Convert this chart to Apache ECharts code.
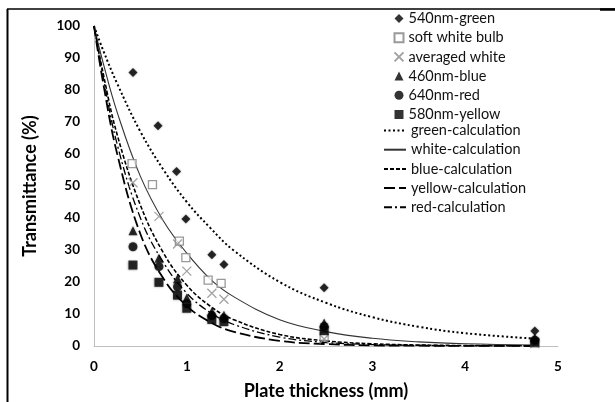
<!DOCTYPE html>
<html><head><meta charset="utf-8">
<script src="https://cdn.jsdelivr.net/npm/echarts@6/dist/echarts.min.js"></script>
<style>html,body{margin:0;padding:0;background:#fff}#c{width:615px;height:402px}</style>
</head><body><div id="c"></div>
<script>
// measured thickness (mm) per series
const xGreen  = [0.42, 0.69, 0.89, 0.99, 1.27, 1.40, 2.48, 4.75];
const xSoft   = [0.41, 0.63, 0.92, 0.99, 1.23, 1.37, 2.48, 4.75];
const xOther  = [0.42, 0.70, 0.90, 1.00, 1.27, 1.40, 2.48, 4.75];
// transmittance (%)
const green540  = [85.5, 68.8, 54.5, 39.7, 28.5, 25.5, 18.2, 4.7];
const softWhite = [57.0, 50.4, 32.8, 27.6, 20.6, 19.6, 3.0, 1.0];
const avgWhite  = [51.0, 40.5, 31.9, 23.4, 16.5, 14.6, 2.2, 0.8];
const blue460   = [36.0, 27.4, 21.0, 15.0, 10.7, 9.6, 7.2, 2.6];
const red640    = [31.0, 24.8, 18.5, 13.2, 9.5, 8.6, 6.1, 1.8];
const yellow580 = [25.3, 19.9, 15.9, 11.8, 8.3, 7.6, 4.8, 1.2];
// calculated curves
const xCalc     = [0, 0.1, 0.25, 0.5, 0.75, 1, 1.25, 1.5, 2, 2.5, 3, 3.5, 4, 4.75];
const greenCalc = [100, 92.3, 82, 67, 55, 45, 37, 30, 20, 13.5, 9, 6, 4, 2.3];
const whiteCalc = [100, 88.3, 73, 53, 39, 29, 21, 15.5, 8.2, 4.5, 2.4, 1.3, 0.7, 0.3];
const blueCalc  = [100, 85, 66, 44, 29, 19, 12.5, 8.3, 3.6, 1.6, 0.7, 0.3, 0.15, 0.05];
const yellowCalc= [100, 82, 60, 35, 21, 12.5, 7.5, 4.5, 1.6, 0.6, 0.2, 0.1, 0.05, 0];
const redCalc   = [100, 84, 63, 40, 26, 16.5, 10.5, 6.8, 2.8, 1.1, 0.45, 0.2, 0.1, 0];
const xTicks = [0, 1, 2, 3, 4, 5];
const yTicks = [0, 10, 20, 30, 40, 50, 60, 70, 80, 90, 100];
const markerNames = ['540nm-green', 'soft white bulb', 'averaged white', '460nm-blue', '640nm-red', '580nm-yellow'];
const curveNames = ['green-calculation', 'white-calculation', 'blue-calculation', 'yellow-calculation', 'red-calculation'];

const zip = (xs, ys) => xs.map((x, i) => [x, ys[i]]);
const FONT = 'Lato';
const crossPath = 'path://M0,0L10,10M10,0L0,10';
const shadow = {shadowBlur: 2, shadowColor: 'rgba(0,0,0,0.45)'};

function scatter(name, xs, ys, symbol, size, style) {
  return {name, type: 'scatter', data: zip(xs, ys), symbol, symbolSize: size, z: 5,
          itemStyle: style};
}
function curve(name, ys, lineStyle) {
  return {name, type: 'line', data: zip(xCalc, ys), smooth: 0.4, showSymbol: false, symbol: 'none',
          z: 3, lineStyle, itemStyle: {color: 'rgba(0,0,0,0)'}};
}
const legendText = {fontFamily: FONT, fontSize: 14.5, color: '#111'};

const chart = echarts.init(document.getElementById('c'), null, {renderer: 'canvas'});
chart.setOption({
  animation: false,
  textStyle: {fontFamily: FONT},
  grid: {left: 94, right: 57, top: 26, bottom: 56, containLabel: false, outerBoundsMode: 'none'},
  xAxis: {type: 'value', min: 0, max: 5, interval: 1,
    name: 'Plate thickness (mm)', nameLocation: 'middle', nameGap: 36,
    nameTextStyle: {fontFamily: FONT, fontWeight: 'bold', fontSize: 18, color: '#000'},
    axisLine: {lineStyle: {color: '#bfbfbf', width: 1}}, axisTick: {show: false},
    axisLabel: {fontFamily: FONT, fontWeight: 'bold', fontSize: 13.5, color: '#000', margin: 14,
      formatter: v => xTicks.includes(v) ? String(v) : ''},
    splitLine: {show: false}},
  yAxis: {type: 'value', min: 0, max: 100, interval: 10,
    name: 'Transmittance (%)', nameLocation: 'middle', nameGap: 55,
    nameTextStyle: {fontFamily: FONT, fontWeight: 'bold', fontSize: 18, color: '#000'},
    axisLine: {show: true, lineStyle: {color: '#bfbfbf', width: 1}}, axisTick: {show: false},
    axisLabel: {fontFamily: FONT, fontWeight: 'bold', fontSize: 13.5, color: '#000', margin: 14,
      formatter: v => yTicks.includes(v) ? String(v) : ''},
    splitLine: {show: false}},
  legend: [
    {orient: 'vertical', left: 393.5, top: 11, padding: 0, itemWidth: 9, itemHeight: 9, itemGap: 4.2,
     textStyle: legendText, data: markerNames},
    {orient: 'vertical', left: 383, top: 123, padding: 0, itemWidth: 22, itemHeight: 9, itemGap: 4.2,
     textStyle: legendText, data: curveNames.map(n => ({name: n, itemStyle: {opacity: 0}}))}
  ],
  graphic: [
    {type: 'line', shape: {x1: 7, y1: 9, x2: 615, y2: 9}, style: {stroke: '#000', lineWidth: 1.5}},
    {type: 'line', shape: {x1: 600, y1: 9.5, x2: 615, y2: 9.5}, style: {stroke: '#000', lineWidth: 2.5}},
    {type: 'line', shape: {x1: 7.5, y1: 9, x2: 7.5, y2: 402}, style: {stroke: '#000', lineWidth: 2}}
  ],
  series: [
    scatter(markerNames[0], xGreen, green540, 'diamond', 9, Object.assign({color: '#000'}, shadow)),
    scatter(markerNames[1], xSoft, softWhite, 'rect', 8, {color: '#fff', borderColor: '#7f7f7f', borderWidth: 1.3}),
    scatter(markerNames[2], xOther, avgWhite, crossPath, 9, {color: 'rgba(0,0,0,0)', borderColor: '#8c8c8c', borderWidth: 1.3}),
    scatter(markerNames[3], xOther, blue460, 'triangle', 9, Object.assign({color: '#000'}, shadow)),
    scatter(markerNames[4], xOther, red640, 'circle', 9, Object.assign({color: '#000'}, shadow)),
    scatter(markerNames[5], xOther, yellow580, 'rect', 9, Object.assign({color: '#000'}, shadow)),
    curve(curveNames[0], greenCalc, {color: '#000', width: 2, type: [2, 2.5]}),
    curve(curveNames[1], whiteCalc, {color: '#333', width: 1.1, type: 'solid'}),
    curve(curveNames[2], blueCalc, {color: '#000', width: 1.6, type: [4, 2]}),
    curve(curveNames[3], yellowCalc, {color: '#000', width: 1.8, type: [11, 4]}),
    curve(curveNames[4], redCalc, {color: '#000', width: 1.3, type: [8, 3, 2, 3]})
  ]
});
</script></body></html>
